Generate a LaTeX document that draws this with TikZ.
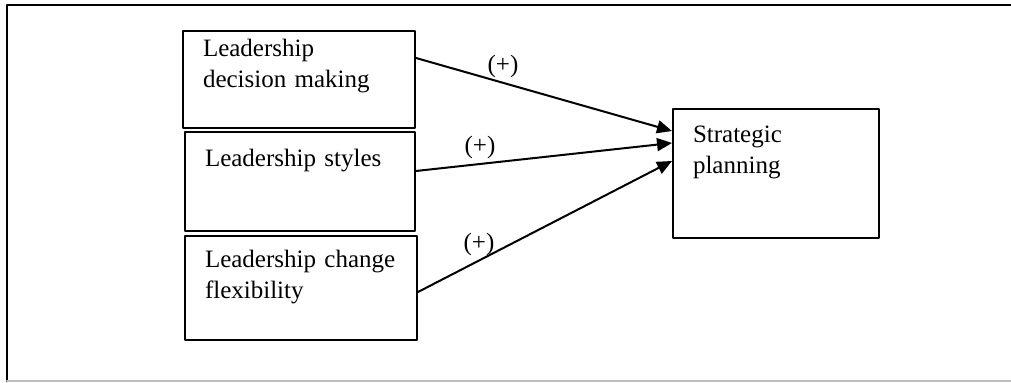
\documentclass[tikz,border=0pt]{standalone}
\usepackage{fontspec}
\setmainfont{Liberation Serif}
\usepackage{tikz}
\usetikzlibrary{arrows.meta}

\begin{document}
\begin{tikzpicture}[line cap=round,line join=round,>={Triangle[length=7.5pt,width=6.5pt]},x=0.5pt,y=-0.5pt,
	font=\fontsize{12.5}{15.3}\selectfont,
	box/.style={draw,line width=1pt,anchor=north west,align=left,inner xsep=10pt,inner ysep=0pt},
	link/.style={->,line width=1pt},
	sign/.style={above,inner sep=2pt}]

		\useasboundingbox (0,0) rectangle (1011,383);

		%kehys
		\draw[line width=1pt] (1011,5) -- (7,5) -- (7,381.5);
		\draw[line width=1pt,color=lightgray] (7,381.5) -- (1011,381.5);

		%laatikot vasemmalla
		\node[box,text width=96pt,text height=13pt,text depth=35.5pt] (ldm) at (182,30) {Leadership\\decision making};
		\node[box,text width=95pt,text height=17.5pt,text depth=32pt] (lsty) at (184,131) {Leadership styles};
		\node[box,text width=96pt,text height=16pt,text depth=36pt] (lcf) at (184,235) {Leadership change\\flexibility};

		%laatikko oikealla
		\node[box,text width=83pt,text height=17pt,text depth=47.5pt] (sp) at (672,108) {Strategic\\planning};

		% Nuolet
		\draw[link] ([yshift=10.75pt]ldm.east) -- ([yshift=21.25pt]sp.west) node[sign,pos=0.34] (s1) {(+)};
		\draw[link] ([yshift=5.25pt]lsty.east) -- ([yshift=15.25pt]sp.west) node[sign,pos=0.25] (s2) {(+)};
		\draw[link] ([yshift=-2pt]lcf.east) -- ([yshift=6.25pt]sp.west) node[sign,pos=0.24] (s3) {(+)};

	\end{tikzpicture}
\end{document}
